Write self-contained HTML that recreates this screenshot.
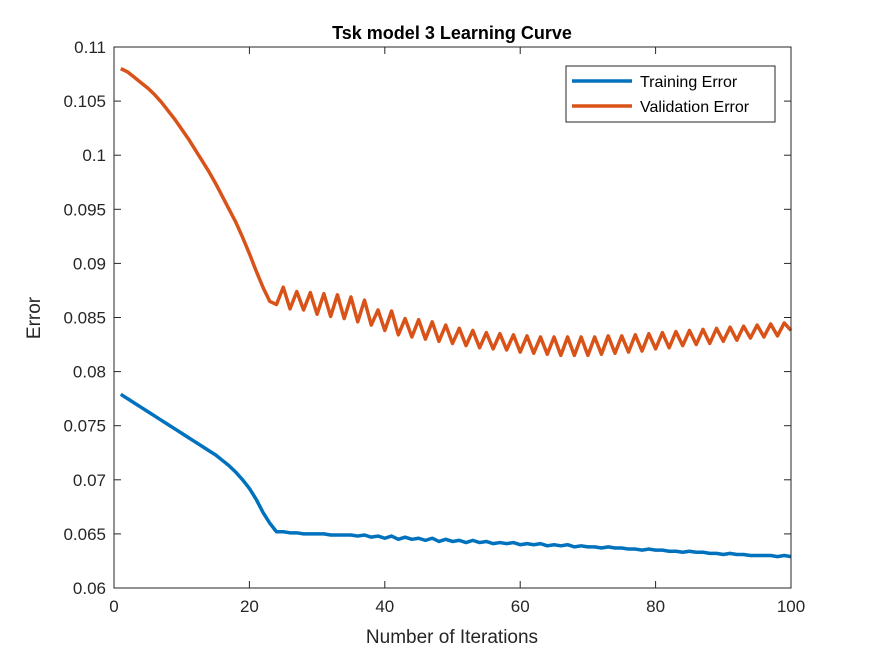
<!DOCTYPE html>
<html><head><meta charset="utf-8"><style>
body{margin:0;background:#fff;}
svg text{font-family:"Liberation Sans",sans-serif;}
</style></head><body>
<svg id="chart" width="875" height="656" viewBox="0 0 875 656">
<rect x="0" y="0" width="875" height="656" fill="#fff"/>
<rect x="114" y="47" width="677" height="541" fill="#fff"/>
<g id="grid"></g>
<g id="series"></g>
<rect x="114" y="47" width="677" height="541" fill="none" stroke="#262626" stroke-width="1"/>
<text x="452" y="39" text-anchor="middle" font-size="18" font-weight="bold" fill="#000">Tsk model 3 Learning Curve</text>
<text x="452" y="643" text-anchor="middle" font-size="19" fill="#262626">Number of Iterations</text>
<text transform="translate(40,318) rotate(-90)" text-anchor="middle" font-size="19" fill="#262626">Error</text>
<g>
<rect x="566" y="66" width="209" height="56" fill="#fff" stroke="#262626" stroke-width="1"/>
<line x1="572" y1="81" x2="632" y2="81" stroke="#0072BD" stroke-width="3.5"/>
<text x="640" y="87" font-size="16" fill="#000">Training Error</text>
<line x1="572" y1="106" x2="632" y2="106" stroke="#D95319" stroke-width="3.5"/>
<text x="640" y="112" font-size="16" fill="#000">Validation Error</text>
</g>
</svg>
<script>
const xTicks=[0,20,40,60,80,100];
const yTicks=[0.06,0.065,0.07,0.075,0.08,0.085,0.09,0.095,0.1,0.105,0.11];
const yTickLabels=["0.06","0.065","0.07","0.075","0.08","0.085","0.09","0.095","0.1","0.105","0.11"];
const trainingError=[.0779,.0775,.0771,.0767,.0763,.0759,.0755,.0751,.0747,.0743,.0739,.0735,.0731,.0727,.0723,.0718,.0713,.0707,.0700,.0692,.0682,.0670,.0660,.0652,
.0652,.0651,.0651,.0650,.0650,.0650,.0650,.0649,.0649,.0649,
.0649,.0648,.0649,.0647,.0648,.0646,.0648,.0645,.0647,.0645,
.0646,.0644,.0646,.0643,.0645,.0643,.0644,.0642,.0644,.0642,
.0643,.0641,.0642,.0641,.0642,.0640,.0641,.0640,.0641,.0639,
.0640,.0639,.0640,.0638,.0639,.0638,.0638,.0637,.0638,.0637,
.0637,.0636,.0636,.0635,.0636,.0635,.0635,.0634,.0634,.0633,
.0634,.0633,.0633,.0632,.0632,.0631,.0632,.0631,.0631,.0630,
.0630,.0630,.0630,.0629,.0630,.0629];
const validationEarly=[.1080,.1077,.1072,.1067,.1062,.1056,.1049,.1041,.1033,.1024,.1015,.1005,.0995,.0985,.0974,.0962,.0950,.0938,.0924,.0909,.0893,.0878,.0865,.0862];
const validationPeaks=[.0878,.0874,.0873,.0872,.0871,.0869,.0866,.0857,.0856,.0849,.0848,.0846,.0843,.0840,.0838,.0836,.0835,.0834,.0833,.0832,.0832,.0832,.0832,.0832,.0833,.0833,.0834,.0835,.0836,.0837,.0838,.0839,.0840,.0841,.0842,.0843,.0844,.0845];
const validationTroughs=[.0858,.0857,.0853,.0851,.0849,.0846,.0843,.0838,.0834,.0832,.0830,.0828,.0826,.0824,.0822,.0821,.0820,.0818,.0817,.0816,.0815,.0815,.0815,.0816,.0817,.0818,.0819,.0821,.0822,.0824,.0825,.0826,.0828,.0829,.0831,.0832,.0833,.0838];
const validationError=validationEarly.slice();
for(let i=0;i<validationPeaks.length;i++){validationError.push(validationPeaks[i]);validationError.push(validationTroughs[i]);}

const L=114,R=791,T=47,B=588;
const xs=v=>L+(v-0)/(100-0)*(R-L);
const ys=v=>B-(v-0.06)/(0.11-0.06)*(B-T);
const NS="http://www.w3.org/2000/svg";
const grid=document.getElementById('grid');
function mk(tag,attrs,parent){const e=document.createElementNS(NS,tag);for(const k in attrs)e.setAttribute(k,attrs[k]);parent.appendChild(e);return e;}
xTicks.forEach(t=>{
  const x=xs(t);
  const a=mk('line',{x1:x,y1:B,x2:x,y2:B-7,stroke:'#262626'},grid);
  
  
  const b=mk('line',{x1:x,y1:T,x2:x,y2:T+7,stroke:'#262626'},grid);
  
  
  const tx=mk('text',{x:x,y:B+24,'text-anchor':'middle','font-size':17,fill:'#262626'},grid);
  tx.textContent=t;
  
  
});
yTicks.forEach((t,i)=>{
  const y=ys(t);
  const a=mk('line',{x1:L,y1:y,x2:L+7,y2:y,stroke:'#262626'},grid);
  
  
  const b=mk('line',{x1:R,y1:y,x2:R-7,y2:y,stroke:'#262626'},grid);
  
  
  const tx=mk('text',{x:L-8,y:y+6,'text-anchor':'end','font-size':17,fill:'#262626'},grid);
  tx.textContent=yTickLabels[i];
  
  
});
const series=document.getElementById('series');
function line(data,color,name){
  const pts=data.map((v,i)=>xs(i+1).toFixed(2)+','+ys(v).toFixed(2)).join(' ');
  const p=mk('polyline',{points:pts,fill:'none',stroke:color,'stroke-width':3.5,'stroke-linejoin':'round'},series);
  
  
}
line(trainingError,'#0072BD','training-error-line');
line(validationError,'#D95319','validation-error-line');
</script>
</body></html>
